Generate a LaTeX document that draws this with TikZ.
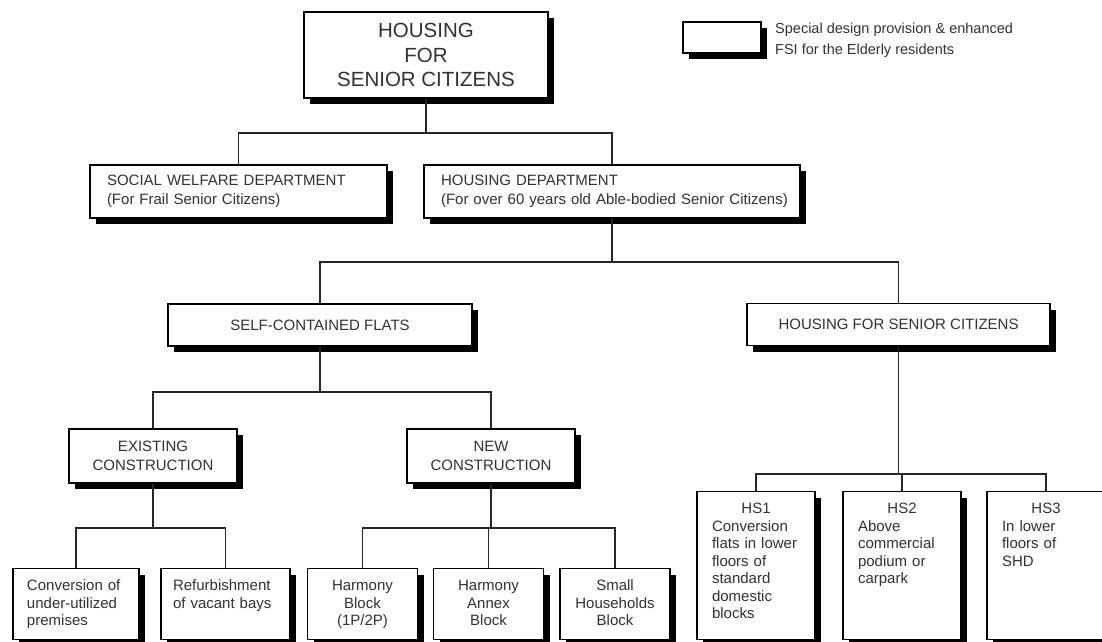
\documentclass[tikz,border=0pt]{standalone}
\usepackage{fontspec}
\setmainfont{Liberation Sans}
\usepackage{xcolor}
\usepackage{tikz}
\usetikzlibrary{shadows}
\definecolor{chartink}{RGB}{050,050,050}
\newcommand{\headsize}{\fontsize{20.5}{24.5}\selectfont}
\newcommand{\midsize}{\fontsize{15}{19}\selectfont}
\newcommand{\leafsize}{\fontsize{15}{17.5}\selectfont}
\newcommand{\notesize}{\fontsize{14.5}{21}\selectfont}
\tikzset{
  box/.style      = {draw=black, line width=1.4pt, fill=white, inner sep=0pt, text=chartink,
                     drop shadow={shadow xshift=6pt, shadow yshift=-6pt, fill=black, opacity=1}},
  headbox/.style  = {box, font=\headsize, align=center},
  deptbox/.style  = {box, font=\midsize, align=left, minimum height=53pt},
  groupbox/.style = {box, font=\midsize, align=center, minimum height=42pt},
  buildbox/.style = {box, font=\midsize, align=center, minimum width=168pt, minimum height=54pt},
  leafbox/.style  = {box, font=\leafsize, anchor=north, text height=22pt, text depth=49pt},
  hsbox/.style    = {box, font=\leafsize, anchor=north, align=left, text width=88pt,
                     minimum width=118pt, text height=22pt, text depth=126pt},
  link/.style     = {draw=black!85, line width=1.8pt}
}

\begin{document}
\begin{tikzpicture}[x=1pt, y=-1pt]
  \useasboundingbox (0,0) rectangle (1102,641);
  \fill[white] (0,0) rectangle (1102,641);
  \begin{scope}
  \clip (0,0) rectangle (1102,641);

  % top of the chart
  \node[headbox, minimum width=244pt, minimum height=86pt] (head) at (426,55)
    {HOUSING\\FOR\\SENIOR CITIZENS};

  % legend
  \node[box, minimum width=78pt, minimum height=31pt] (legend) at (722,37.5) {};
  \node[anchor=west, font=\notesize, align=left, text=chartink, inner sep=0pt] (legendtext) at (775,40)
    {Special design provision \& enhanced\\FSI for the Elderly residents};

  % departments
  \node[deptbox, minimum width=297pt, text width=263pt] (welfare) at (238.5,191.5)
    {SOCIAL WELFARE DEPARTMENT\\(For Frail Senior Citizens)};
  \node[deptbox, minimum width=376pt, text width=342pt] (hdept) at (612,191.5)
    {HOUSING DEPARTMENT\\\mbox{(For over 60 years old Able-bodied Senior Citizens)}};

  % housing types
  \node[groupbox, minimum width=304pt] (flats) at (320,325) {SELF-CONTAINED FLATS};
  \node[groupbox, minimum width=303pt] (seniors) at (898.5,324.5) {HOUSING FOR SENIOR CITIZENS};

  \node[buildbox] (old) at (153,456) {EXISTING\\CONSTRUCTION};
  \node[buildbox] (new) at (491,456) {NEW\\CONSTRUCTION};

  % bottom row
  \node[leafbox, align=left, minimum width=126pt, text width=98pt] (conv) at (76,568)
    {Conversion of\\under-utilized\\premises};
  \node[leafbox, align=left, minimum width=129pt, text width=105pt] (refurb) at (225.5,568)
    {Refurbishment\\of vacant bays};
  \foreach \name/\xx/\boxtext in {harm/362.5/{Harmony\\Block\\(1P/2P)},
      annex/488.5/{Harmony\\Annex\\Block}, small/615/{Small\\Households\\Block}}{
    \node[leafbox, align=center, minimum width=110pt, text width=94pt] (\name) at (\xx,568) {\boxtext};
  }

  \node[hsbox] (hs1) at (756,491)
    {\makebox[\linewidth]{HS1}\\Conversion\\flats in lower\\floors of\\standard\\domestic\\blocks};
  \node[hsbox] (hs2) at (902,491)
    {\makebox[\linewidth]{HS2}\\Above\\commercial\\podium or\\carpark};
  \node[hsbox] (hs3) at (1046,491)
    {\makebox[\linewidth]{HS3}\\In lower\\floors of\\SHD};

  % connectors: one bus line under each parent
  \coordinate (bushead) at (0,133);
  \coordinate (bushdept) at (0,262);
  \coordinate (busflats) at (0,392);
  \coordinate (busold) at (0,528);
  \coordinate (busnew) at (0,528);
  \coordinate (busseniors) at (0,474);
  \foreach \parent/\kids in {head/{welfare,hdept}, hdept/{flats,seniors}, flats/{old,new},
      old/{conv,refurb}, new/{harm,annex,small}, seniors/{hs1,hs2,hs3}}{
    \foreach \kid in \kids{
      \draw[link] (\parent.south) -- (\parent.south |- bus\parent) -| (\kid.north);
    }
  }
  \end{scope}
\end{tikzpicture}
\end{document}
